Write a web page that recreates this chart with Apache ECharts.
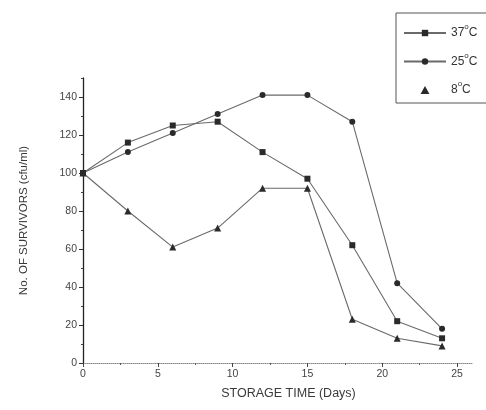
<!DOCTYPE html>
<html>
<head>
<meta charset="utf-8">
<script src="https://cdn.jsdelivr.net/npm/echarts@6/dist/echarts.min.js"></script>
<style>
  html, body { margin: 0; padding: 0; background: #fff; }
  #chart { width: 486px; height: 410px; }
</style>
</head>
<body>
<div id="chart"></div>
<script>
// Storage days and survivor counts (cfu/ml) at three temperatures
const days = [0, 3, 6, 9, 12, 15, 18, 21, 24];
const survivors37 = [100, 116, 125, 127, 111, 97, 62, 22, 13];
const survivors25 = [100, 111, 121, 131, 141, 141, 127, 42, 18];
const survivors8 = [100, 80, 61, 71, 92, 92, 23, 13, 9];
const xTickLabels = [0, 5, 10, 15, 20, 25];
const xMinorTicks = [2.5, 7.5, 12.5, 17.5, 22.5];
const yTickLabels = [0, 20, 40, 60, 80, 100, 120, 140];
const yMinorTicks = [10, 30, 50, 70, 90, 110, 130, 150];

const pairs = vals => days.map((d, i) => [d, vals[i]]);
const font = 'Liberation Sans, Arial, sans-serif';
const ink = '#2a2a2a';

const chart = echarts.init(document.getElementById('chart'), null, { renderer: 'canvas' });

function lineSeries(name, vals, symbol, size) {
  return {
    name: name,
    type: 'line',
    data: pairs(vals),
    symbol: symbol,
    symbolSize: size,
    showAllSymbol: true,
    lineStyle: { color: '#6a6a6a', width: 1.1 },
    itemStyle: { color: ink },
    emphasis: { disabled: true },
    animation: false,
    z: 3
  };
}

// Legend labels: the degree sign is set as a small raised "o"
// (bottom padding on the "sup" token lifts it above the baseline)
const legendRich = {
  n: { fontSize: 12, color: '#333', fontFamily: font },
  sup: { fontSize: 8, lineHeight: 8, padding: [0, 0, 12, 0], color: '#333', fontFamily: font }
};

chart.setOption({
  backgroundColor: '#fff',
  animation: false,
  grid: { left: 83, right: 14, top: 78, bottom: 47 },
  legend: {
    orient: 'vertical',
    left: 396,
    top: 13,
    padding: [10, 40, 3, 7],
    itemWidth: 42,
    itemHeight: 8,
    itemGap: 8.5,
    symbolKeepAspect: true,
    borderColor: '#555',
    borderWidth: 1,
    selectedMode: false,
    textStyle: { fontSize: 12, color: '#333', fontFamily: font, rich: legendRich },
    formatter: n => {
      const [num, unit] = n.split('°');
      return '{n|' + num + '}{sup|o}{n|' + unit + '}';
    },
    data: [
      { name: '37°C' },
      { name: '25°C' },
      { name: '8°C', icon: 'path://M5,0 L10,9 L0,9 Z', itemStyle: { color: ink } }
    ]
  },
  xAxis: [{
    type: 'value',
    min: 0,
    max: 26,
    name: 'STORAGE TIME (Days)',
    nameLocation: 'middle',
    nameGap: 24,
    nameTextStyle: { fontSize: 12.5, color: '#3a3a3a', fontFamily: font, padding: [0, 0, 0, 22] },
    axisLine: { lineStyle: { color: '#8a8a8a', width: 1, type: 'dotted' } },
    axisTick: { inside: false, length: 4, customValues: xTickLabels, lineStyle: { color: '#444' } },
    axisLabel: { customValues: xTickLabels, fontSize: 10.5, color: '#444', margin: 6, fontFamily: font },
    splitLine: { show: false }
  }, {
    type: 'value',
    min: 0,
    max: 26,
    position: 'bottom',
    axisLine: { show: false },
    axisTick: { length: 2, customValues: xMinorTicks, lineStyle: { color: '#555' } },
    axisLabel: { show: false },
    splitLine: { show: false }
  }],
  yAxis: [{
    type: 'value',
    min: 0,
    max: 150,
    name: 'No. OF SURVIVORS (cfu/ml)',
    nameLocation: 'middle',
    nameGap: 53,
    nameTextStyle: { fontSize: 11.5, color: '#3a3a3a', fontFamily: font },
    axisLine: { show: true, lineStyle: { color: '#222', width: 1.3 } },
    axisTick: { length: 4, customValues: yTickLabels, lineStyle: { color: '#333' } },
    axisLabel: { customValues: yTickLabels, fontSize: 10.5, color: '#444', margin: 6, fontFamily: font },
    splitLine: { show: false }
  }, {
    type: 'value',
    min: 0,
    max: 150,
    position: 'left',
    axisLine: { show: false },
    axisTick: { length: 2, customValues: yMinorTicks, lineStyle: { color: '#444' } },
    axisLabel: { show: false },
    splitLine: { show: false }
  }],
  series: [
    lineSeries('37°C', survivors37, 'rect', 6),
    lineSeries('25°C', survivors25, 'circle', 6),
    lineSeries('8°C', survivors8, 'triangle', 7)
  ]
});
</script>
</body>
</html>
